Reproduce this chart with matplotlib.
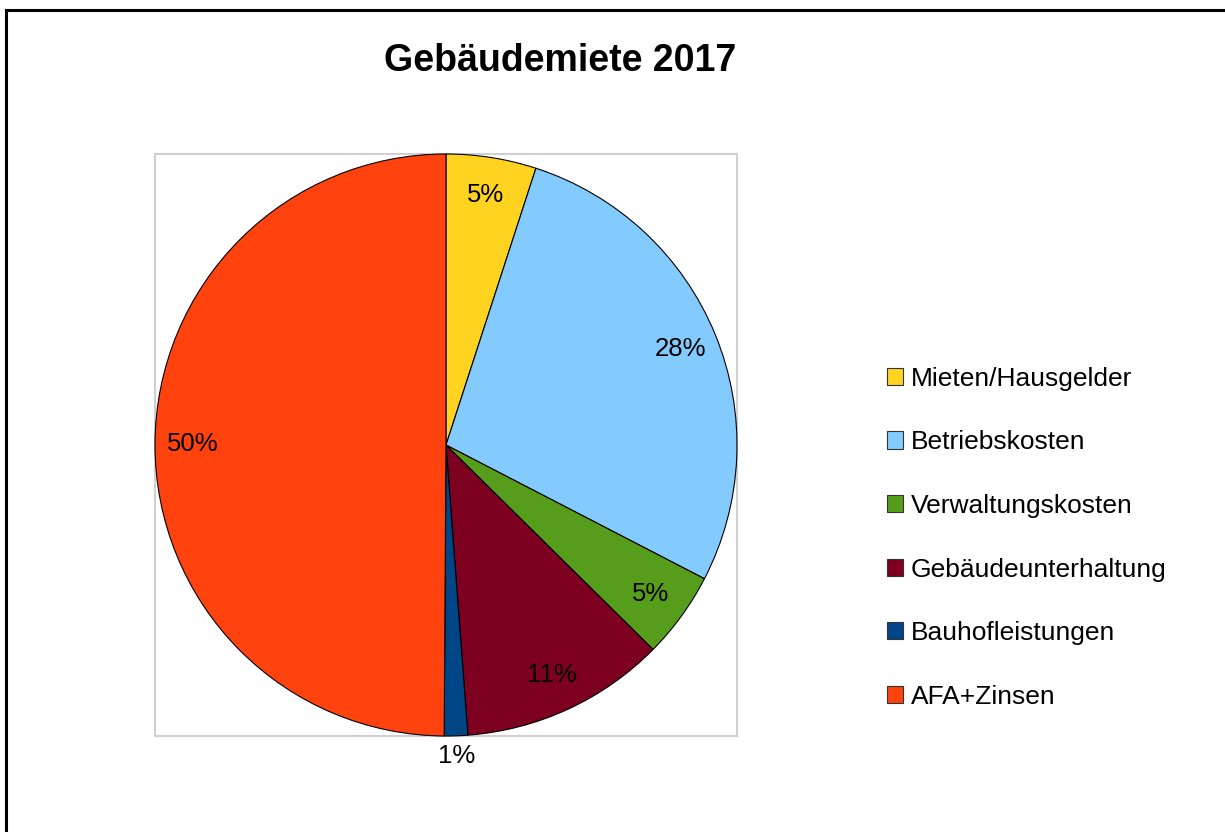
import matplotlib
matplotlib.use("Agg")
import matplotlib.pyplot as plt
from matplotlib.lines import Line2D
import numpy as np

plt.rcParams['font.family'] = ['Liberation Sans', 'DejaVu Sans']

# Daten
categories = ["Mieten/Hausgelder", "Betriebskosten", "Verwaltungskosten",
              "Gebäudeunterhaltung", "Bauhofleistungen", "AFA+Zinsen"]
shares = [5.0, 27.6, 4.8, 11.4, 1.3, 49.9]
colors = ["#FFD320", "#83CAFF", "#579D1C", "#7E0021", "#004586", "#FF420E"]

W, H = 1225, 832
fig = plt.figure(figsize=(W / 100, H / 100), dpi=100)

# Rahmen um das Diagramm (oben und links sichtbar)
fig.add_artist(Line2D([6 / W, 1.0], [1 - 10 / H, 1 - 10 / H], color="black", lw=2.2))
fig.add_artist(Line2D([6 / W, 6 / W], [0.0, 1 - 10 / H], color="black", lw=2.2))

# Plotbereich
ax = fig.add_axes([155 / W, (H - 736) / H, 582 / W, 582 / H])
wedges, texts, autotexts = ax.pie(
    shares, colors=colors, startangle=90, counterclock=False,
    autopct=lambda p: f"{p:.0f}%", pctdistance=0.87, radius=1.0,
    wedgeprops=dict(edgecolor="black", linewidth=0.8),
    textprops=dict(fontsize=18.5, color="black"))
for w in wedges:
    w.set_clip_on(False)
ax.set_xlim(-1, 1)
ax.set_ylim(-1, 1)
ax.set_aspect("auto")
ax.set_frame_on(True)
for s in ax.spines.values():
    s.set_color("#d0d0d0")
    s.set_linewidth(1.5)
    s.set_zorder(0)

# kleines Segment: Beschriftung außerhalb
w = wedges[4]
ang = np.deg2rad((w.theta1 + w.theta2) / 2)
autotexts[4].set_position((1.07 * np.cos(ang), 1.07 * np.sin(ang)))

fig.text(560 / W, 1 - 61 / H, "Gebäudemiete 2017", fontsize=27,
         fontweight="bold", ha="center", va="center")

leg = fig.legend(wedges, categories, loc="upper left",
                 bbox_to_anchor=(863 / W, 1 - 343 / H), frameon=False,
                 fontsize=19, handlelength=0.62, handleheight=0.62,
                 handletextpad=0.28, labelspacing=1.5)
for h in leg.legend_handles:
    h.set_edgecolor("#333333")
    h.set_linewidth(0.8)

fig.savefig("out.png", dpi=100)
